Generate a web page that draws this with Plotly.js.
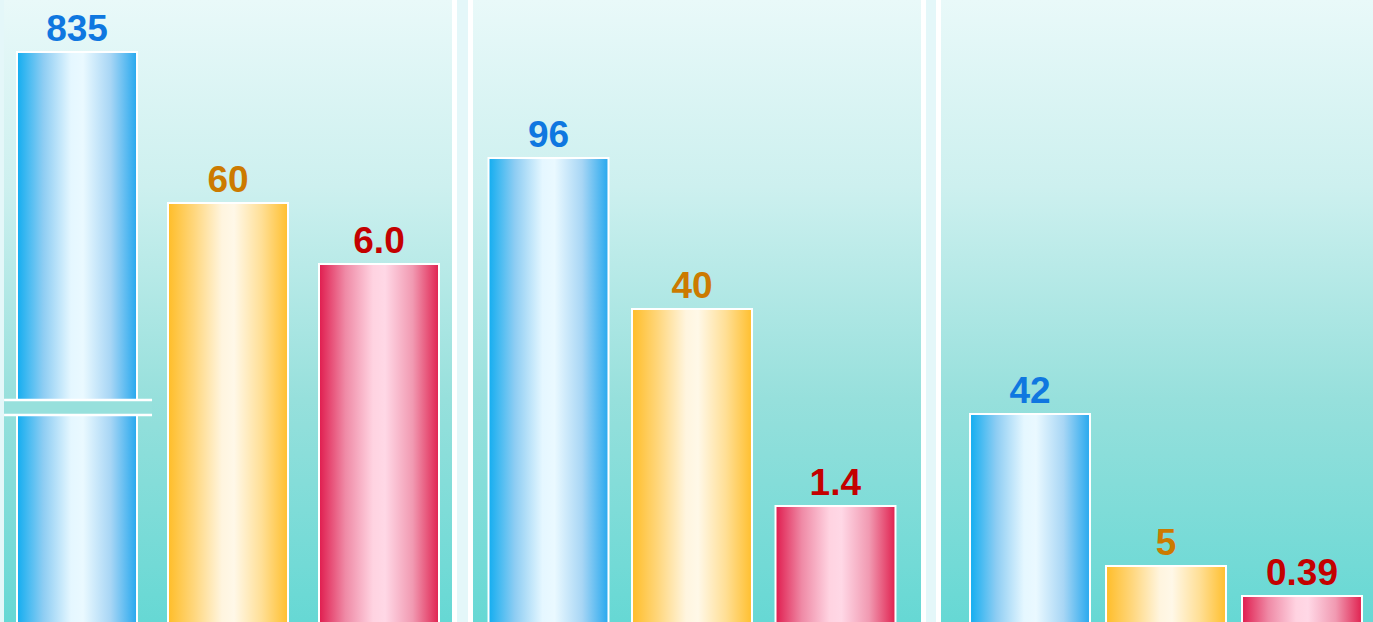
<!DOCTYPE html>
<html>
<head>
<meta charset="utf-8">
<script src="https://cdn.plot.ly/plotly-3.0.1.min.js"></script>
<style>
  html, body { margin: 0; padding: 0; }
  body {
    width: 1373px; height: 622px; overflow: hidden;
    background: linear-gradient(to bottom, #e9f9f9 0%, #cdf0ef 30%, #97e0dc 64%, #66d8d4 100%);
  }
  #chart { width: 1373px; height: 622px; }
</style>
</head>
<body>
<div id="chart"></div>
<script>
// ---- data ----
const seriesNames = ["Series A", "Series B", "Series C"];
// printed values per panel
const panel1Labels = ["835", "60", "6.0"];
const panel2Labels = ["96", "40", "1.4"];
const panel3Labels = ["42", "5", "0.39"];
// illustrative bar heights (display units, as drawn; first bar has an axis break)
const panel1Heights = [574, 423, 362];
const panel2Heights = [468, 317, 120];
const panel3Heights = [212, 60, 30];
// axis break on the first bar (display units)
const breakLow = 211, breakHigh = 226;

// ---- styles ----
const edgeColors = ["#16aef0", "#ffbe2b", "#e01f50"];
const labelColors = ["#0f77e0", "#cc7a00", "#c40000"];
const gradients = [
  ["#12adf0", "#8ecdf3", "#e5f7ff", "#eaf9ff", "#a8d6f5", "#26a8ee"],
  ["#ffbd28", "#ffd77e", "#fff5df", "#fff8e8", "#ffdf96", "#ffbf2e"],
  ["#e01c4e", "#ef8aa6", "#ffd3e1", "#ffd8e6", "#f19ab2", "#e0214f"]
];
const gradStops = [0, 0.22, 0.45, 0.55, 0.78, 1];

function panelTrace(heights, labels, xa, width) {
  return {
    type: "bar",
    x: seriesNames,
    y: heights,
    text: labels,
    textposition: "outside",
    cliponaxis: false,
    constraintext: "none",
    textangle: 0,
    textfont: { family: "'Liberation Sans', Arial, sans-serif", size: 37, weight: 700, color: labelColors },
    marker: { color: edgeColors, line: { color: "#ffffff", width: 2 } },
    width: width,
    xaxis: xa,
    yaxis: "y",
    hoverinfo: "skip",
    showlegend: false
  };
}

const W = 1373;
const traces = [
  panelTrace(panel1Heights, panel1Labels, "x", 0.795),
  panelTrace(panel2Heights, panel2Labels, "x2", 0.836),
  panelTrace(panel3Heights, panel3Labels, "x3", 0.882)
];

const hiddenX = (dom) => ({
  domain: dom, range: [-0.5, 2.5], anchor: "y",
  showgrid: false, zeroline: false, showticklabels: false, ticks: "", showline: false, fixedrange: true
});

const sepColor = "#e4f7f9";
function separator(x0, x1) {
  return [
    { type: "rect", xref: "paper", yref: "paper", x0: x0 / W, x1: x1 / W, y0: 0, y1: 1, fillcolor: sepColor, line: { width: 0 }, layer: "below" },
    { type: "rect", xref: "paper", yref: "paper", x0: x0 / W, x1: (x0 + 5) / W, y0: 0, y1: 1, fillcolor: "#ffffff", line: { width: 0 }, layer: "below" },
    { type: "rect", xref: "paper", yref: "paper", x0: (x1 - 5) / W, x1: x1 / W, y0: 0, y1: 1, fillcolor: "#ffffff", line: { width: 0 }, layer: "below" }
  ];
}

const shapes = [
  { type: "rect", xref: "paper", yref: "paper", x0: 0, x1: 4 / W, y0: 0, y1: 1, fillcolor: sepColor, line: { width: 0 }, layer: "below" },
  ...separator(452, 473),
  ...separator(921, 941),
  // axis break on first bar
  { type: "rect", xref: "x", yref: "y", x0: -0.483, x1: 0.497, y0: breakLow, y1: breakHigh, fillcolor: "#97e0dc", line: { width: 0 }, layer: "above" },
  { type: "line", xref: "x", yref: "y", x0: -0.483, x1: 0.497, y0: breakLow, y1: breakLow, line: { color: "#ffffff", width: 2.5 }, layer: "above" },
  { type: "line", xref: "x", yref: "y", x0: -0.483, x1: 0.497, y0: breakHigh, y1: breakHigh, line: { color: "#ffffff", width: 2.5 }, layer: "above" }
];

const layout = {
  width: 1373, height: 622,
  margin: { l: 0, r: 0, t: 0, b: 0, pad: 0 },
  paper_bgcolor: "rgba(0,0,0,0)",
  plot_bgcolor: "rgba(0,0,0,0)",
  showlegend: false,
  xaxis: hiddenX([1.5 / W, 454.5 / W]),
  xaxis2: hiddenX([476.75 / W, 907.25 / W]),
  xaxis3: hiddenX([962 / W, 1370 / W]),
  yaxis: { range: [4, 626], showgrid: false, zeroline: false, showticklabels: false, ticks: "", showline: false, fixedrange: true },
  shapes: shapes
};

function applyGradients(gd) {
  const svg = gd.querySelector(".main-svg");
  let defs = svg.querySelector("defs");
  if (!defs) { defs = document.createElementNS("http://www.w3.org/2000/svg", "defs"); svg.insertBefore(defs, svg.firstChild); }
  gradients.forEach((cols, i) => {
    const id = "cylGrad" + i;
    if (document.getElementById(id)) return;
    const lg = document.createElementNS("http://www.w3.org/2000/svg", "linearGradient");
    lg.setAttribute("id", id);
    lg.setAttribute("x1", "0"); lg.setAttribute("x2", "1");
    lg.setAttribute("y1", "0"); lg.setAttribute("y2", "0");
    cols.forEach((c, k) => {
      const st = document.createElementNS("http://www.w3.org/2000/svg", "stop");
      st.setAttribute("offset", gradStops[k]);
      st.setAttribute("stop-color", c);
      lg.appendChild(st);
    });
    defs.appendChild(lg);
  });
  gd.querySelectorAll(".barlayer .trace").forEach(tr => {
    tr.querySelectorAll(".point").forEach((pt, i) => {
      const p = pt.querySelector("path");
      if (p) p.style.fill = "url(#cylGrad" + (i % 3) + ")";
    });
  });
}

Plotly.newPlot("chart", traces, layout, { staticPlot: true, displayModeBar: false }).then(gd => {
  applyGradients(gd);
  gd.on && gd.on("plotly_afterplot", () => applyGradients(gd));
});
</script>
</body>
</html>
